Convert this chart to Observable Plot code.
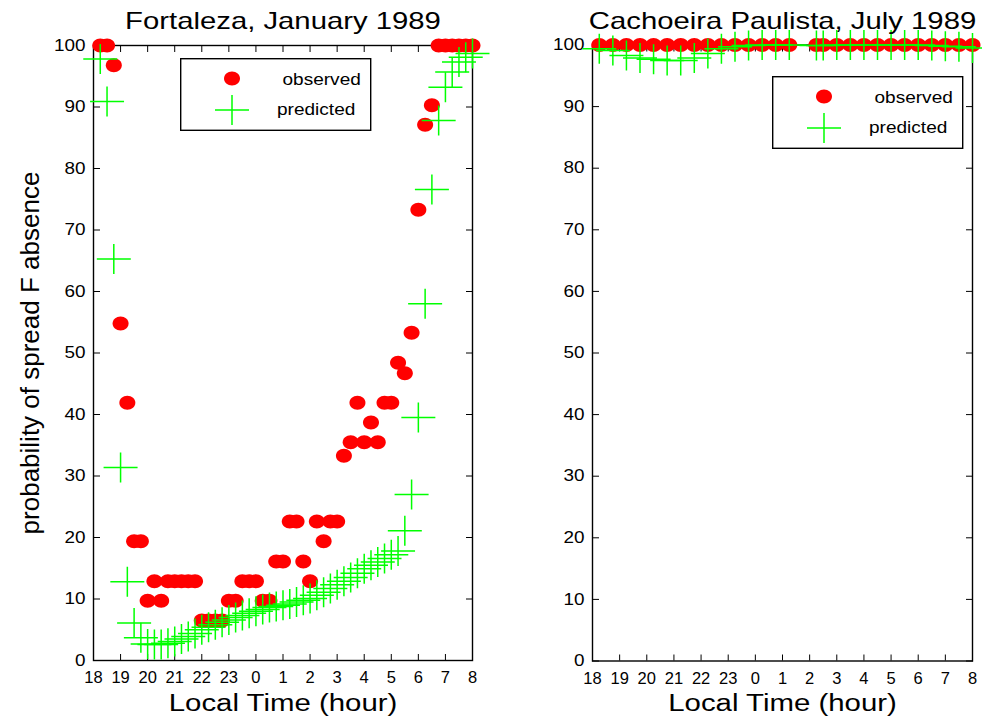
<!DOCTYPE html>
<html>
<head>
<meta charset="utf-8">
<script src="https://cdn.jsdelivr.net/npm/d3@7"></script>
<script src="https://cdn.jsdelivr.net/npm/@observablehq/plot@0.6"></script>
<style>
  body { margin: 0; background: #fff; }
  #chart { position: relative; width: 982px; height: 719px; font-family: "Liberation Sans", Arial, sans-serif; color: #000; }
  #chart > .panel { position: absolute; top: 0; }
  #chart > .legend { position: absolute; }
</style>
</head>
<body>
<div id="chart"></div>
<script>
// ---------- data ----------
const xTicks = [18, 19, 20, 21, 22, 23, 24, 25, 26, 27, 28, 29, 30, 31, 32];
const xTickLabels = ["18", "19", "20", "21", "22", "23", "0", "1", "2", "3", "4", "5", "6", "7", "8"];
const yTicks = [0, 10, 20, 30, 40, 50, 60, 70, 80, 90, 100];

const titles = ["Fortaleza, January 1989", "Cachoeira Paulista, July 1989"];
const xLabel = "Local Time (hour)";
const yLabel = "probability of spread F absence";
const seriesNames = ["observed", "predicted"];

// Fortaleza, January 1989 (local time, every 15 min)
const fortalezaHours = [
  18.25, 18.5, 18.75, 19, 19.25, 19.5, 19.75, 20, 20.25, 20.5, 20.75, 21, 21.25, 21.5, 21.75,
  22, 22.25, 22.5, 22.75, 23, 23.25, 23.5, 23.75, 0, 0.25, 0.5, 0.75, 1, 1.25, 1.5, 1.75,
  2, 2.25, 2.5, 2.75, 3, 3.25, 3.5, 3.75, 4, 4.25, 4.5, 4.75, 5, 5.25, 5.5, 5.75,
  6, 6.25, 6.5, 6.75, 7, 7.25, 7.5, 7.75, 8
];
const fortalezaObserved = [
  100, 100, 96.8, 54.8, 41.9, 19.4, 19.4, 9.7, 12.9, 9.7, 12.9, 12.9, 12.9, 12.9, 12.9,
  6.5, 6.5, 6.5, 6.5, 9.7, 9.7, 12.9, 12.9, 12.9, 9.7, 9.7, 16.1, 16.1, 22.6, 22.6, 16.1,
  12.9, 22.6, 19.4, 22.6, 22.6, 33.3, 35.5, 41.9, 35.5, 38.7, 35.5, 41.9, 41.9, 48.4, 46.7, 53.3,
  73.3, 87.1, 90.3, 100, 100, 100, 100, 100, 100
];
const fortalezaPredicted = [
  97.8, 90.9, 65.3, 31.4, 12.8, 6.1, 3.7, 2.7, 2.6, 2.6, 2.8, 3.1, 3.5, 3.9, 4.4,
  5.0, 5.4, 5.8, 6.2, 6.6, 7.0, 7.3, 7.7, 8.0, 8.3, 8.6, 8.8, 9.0, 9.2, 9.5, 9.8,
  10.1, 10.6, 11.1, 11.7, 12.3, 12.9, 13.5, 14.2, 14.9, 15.5, 16.0, 16.6, 17.2, 17.8, 21.1, 27.0,
  39.5, 58.0, 76.6, 87.8, 93.2, 95.7, 97.3, 98.1, 98.7
];

// Cachoeira Paulista, July 1989
const cachoeiraHours = [
  18.25, 18.75, 19.25, 19.75, 20.25, 20.75, 21.25, 21.75, 22.25, 22.75, 23.25, 23.75, 0.25, 0.75, 1.25,
  2.25, 2.5, 3, 3.5, 4, 4.5, 5, 5.5, 6, 6.5, 7, 7.5, 8
];
const cachoeiraObserved = [
  100, 100, 100, 100, 100, 100, 100, 100, 100, 100, 100, 100, 100, 100, 100,
  100, 100, 100, 100, 100, 100, 100, 100, 100, 100, 100, 100, 100
];
const cachoeiraPredicted = [
  99.4, 99.1, 98.3, 97.9, 97.7, 97.5, 97.5, 97.9, 98.6, 99.4, 99.7, 99.9, 100, 100, 100,
  99.9, 99.9, 100, 100, 100, 100, 100, 100, 100, 99.9, 99.8, 99.7, 99.5
];

// ---------- helpers ----------
const toAxisHour = (h) => (h < 12 ? h + 24 : h);

const ellipseSymbol = {
  draw(ctx) {
    const rx = 8, ry = 7, k = 0.5523;
    ctx.moveTo(rx, 0);
    ctx.bezierCurveTo(rx, ry * k, rx * k, ry, 0, ry);
    ctx.bezierCurveTo(-rx * k, ry, -rx, ry * k, -rx, 0);
    ctx.bezierCurveTo(-rx, -ry * k, -rx * k, -ry, 0, -ry);
    ctx.bezierCurveTo(rx * k, -ry, rx, -ry * k, rx, 0);
    ctx.closePath();
  }
};
const plusSymbol = {
  draw(ctx) {
    ctx.moveTo(-17, 0); ctx.lineTo(17, 0);
    ctx.moveTo(0, -15); ctx.lineTo(0, 15);
  }
};
const RED = "#ff0000";
const GREEN = "#00ff00";
const FONT = '"Liberation Sans", Arial, sans-serif';

function panel({hours, observed, predicted, title, marginLeft, marginRight, marginTop, marginBottom, withYLabel}) {
  const obs = hours.map((h, i) => ({t: toAxisHour(h), v: observed[i]}));
  const pred = hours.map((h, i) => ({t: toAxisHour(h), v: predicted[i]}));
  return Plot.plot({
    width: 491,
    height: 719,
    marginTop, marginBottom, marginLeft, marginRight,
    style: {fontFamily: FONT, background: "transparent", overflow: "visible", color: "#000"},
    x: {domain: [18, 32]},
    y: {domain: [0, 100]},
    marks: [
      Plot.frame({stroke: "#000", strokeWidth: 1.4}),
      Plot.axisX({ticks: xTicks, tickFormat: (d) => xTickLabels[xTicks.indexOf(d)], tickSize: -6, tickPadding: 17, fontSize: 16.5, label: null}),
      Plot.axisX({anchor: "top", ticks: xTicks, tickFormat: () => "", tickSize: -6, label: null}),
      Plot.axisY({ticks: yTicks, tickSize: -7, tickPadding: 15, fontSize: 16, label: null}),
      Plot.axisY({anchor: "right", ticks: yTicks, tickFormat: () => "", tickSize: -7, label: null}),
      Plot.dot(obs, {x: "t", y: "v", symbol: ellipseSymbol, fill: RED, stroke: "none"}),
      Plot.dot(pred, {x: "t", y: "v", symbol: plusSymbol, fill: "none", stroke: GREEN, strokeWidth: 1.5}),
      Plot.text([title], {text: (d) => d, frameAnchor: "top", textAnchor: "middle", dy: -16.5, lineAnchor: "bottom", fontSize: 24}),
      Plot.text([xLabel], {text: (d) => d, frameAnchor: "bottom", textAnchor: "middle", dy: 50, lineAnchor: "bottom", fontSize: 23.5}),
      withYLabel
        ? Plot.text([yLabel], {text: (d) => d, frameAnchor: "left", textAnchor: "middle", dx: -55, rotate: -90, lineAnchor: "bottom", fontSize: 26})
        : null
    ]
  });
}

function legend(left, top) {
  const div = document.createElement("div");
  div.className = "legend";
  div.style.left = left + "px";
  div.style.top = top + "px";
  const pe = d3.path(); ellipseSymbol.draw(pe);
  const pp = d3.path(); plusSymbol.draw(pp);
  div.innerHTML = `<svg width="192" height="74" style="display:block;font-family:${FONT.replace(/"/g, "'")}">
    <rect x="0.7" y="0.7" width="190" height="71.6" fill="#fff" stroke="#000" stroke-width="1.4"></rect>
    <path transform="translate(52,20.5)" d="${pe}" fill="${RED}"></path>
    <path transform="translate(52,52)" d="${pp}" fill="none" stroke="${GREEN}" stroke-width="1.5"></path>
    <text x="102.5" y="27.3" font-size="17" fill="#000">${seriesNames[0]}</text>
    <text x="97" y="57.3" font-size="17" fill="#000">${seriesNames[1]}</text>
  </svg>`;
  return div;
}

// ---------- build ----------
const chart = document.getElementById("chart");

const leftPlot = panel({
  hours: fortalezaHours, observed: fortalezaObserved, predicted: fortalezaPredicted, title: titles[0],
  marginLeft: 93, marginRight: 19, marginTop: 45, marginBottom: 59, withYLabel: true
});
const leftWrap = document.createElement("div");
leftWrap.className = "panel";
leftWrap.style.left = "0px";
leftWrap.appendChild(leftPlot);
chart.appendChild(leftWrap);

const rightPlot = panel({
  hours: cachoeiraHours, observed: cachoeiraObserved, predicted: cachoeiraPredicted, title: titles[1],
  marginLeft: 101, marginRight: 10, marginTop: 44.5, marginBottom: 58.5, withYLabel: false
});
const rightWrap = document.createElement("div");
rightWrap.className = "panel";
rightWrap.style.left = "491px";
rightWrap.appendChild(rightPlot);
chart.appendChild(rightWrap);

chart.appendChild(legend(180, 58));
chart.appendChild(legend(772, 76));

// horizontally widen text glyphs to match the reference's wide lettering
function widen(t, k) {
  const w = t.getComputedTextLength();
  if (w > 0) {
    t.setAttribute("textLength", (w * k).toFixed(1));
    t.setAttribute("lengthAdjust", "spacingAndGlyphs");
  }
}
chart.querySelectorAll(".panel svg text").forEach((t) => {
  const s = t.textContent;
  if (titles.includes(s)) widen(t, 1.22);
  else if (s === xLabel) widen(t, 1.25);
  else if (getComputedStyle(t).textAnchor === "end" && s !== "") widen(t, 1.18);
});
chart.querySelectorAll(".legend text").forEach((t) => widen(t, 1.12));
</script>
</body>
</html>
